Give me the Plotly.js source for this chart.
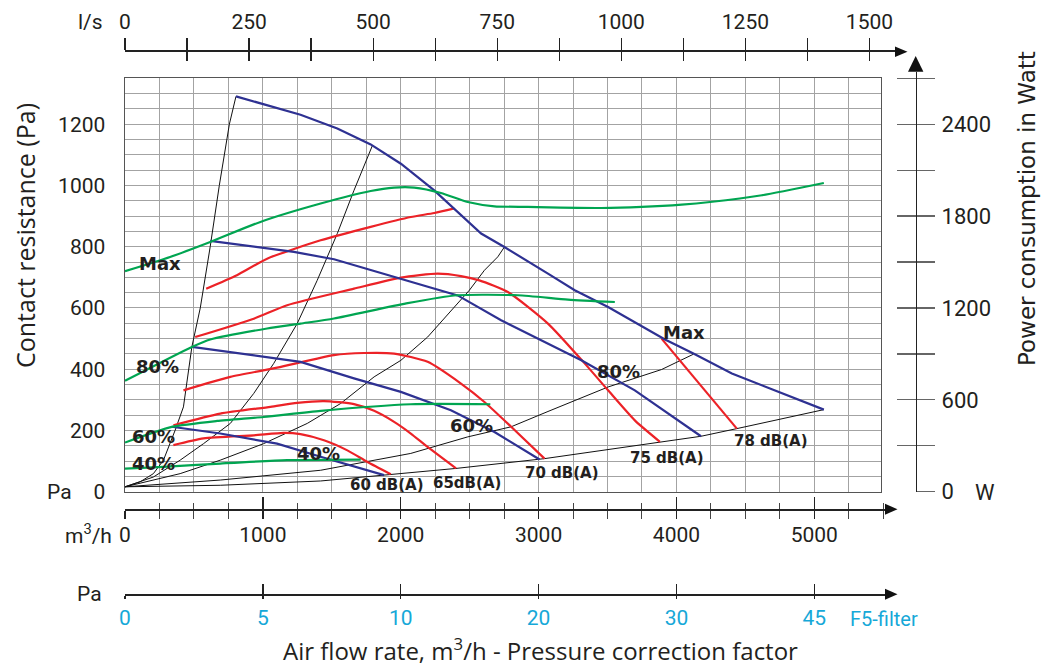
<!DOCTYPE html>
<html><head><meta charset="utf-8">
<script src="https://cdn.plot.ly/plotly-3.0.1.min.js"></script>
<style>html,body{margin:0;padding:0;background:#fff}#chart{width:1041px;height:666px}</style>
</head><body><div id="chart"></div>
<script>
// ---------- DATA (air flow Q in m3/h, pressure in Pa, power in W) ----------
// Fan curves (blue)
const fanMaxQ = [805,1273,1540,1782,2001,2243,2583,2752,3068,3262,3504,3917,4123,4402,5069];
const fanMaxP = [1291,1231,1186,1134,1071,984,843,799,712,658,603,497,451,386,268];
const fan80Q = [618,1225,1516,2040,2413,2728,3310,3698,4038,4178];
const fan80P = [819,783,759,690,641,560,429,331,223,181];
const fan60Q = [485,1103,1273,1661,2001,2364,2680,3007];
const fan60P = [473,435,424,370,326,266,195,105];
const fan40Q = [339,691,1103,1419,1879];
const fan40P = [212,190,157,114,54];
// Power consumption (green, W)
const powMaxQ = [0,327,618,982,1419,1782,1952,2098,2292,2486,2680,2922,3456,3747,4038,4244,4620,5069];
const powMaxW = [1440,1533,1631,1762,1882,1964,1986,1986,1951,1892,1864,1860,1853,1860,1875,1892,1936,2016];
const pow80Q = [0,485,618,1031,1273,1516,2040,2413,2850,3213,3553];
const pow80W = [724,945,994,1066,1098,1131,1230,1283,1283,1255,1239];
const pow60Q = [0,339,667,1006,1419,2073,2650];
const pow60W = [321,423,462,488,528,571,571];
const pow40Q = [0,279,691,1176,1710];
const pow40W = [151,162,184,206,210];
// Sound level curves (red, Pa)
const db60Q = [351,570,934,1152,1273,1443,1613,1759,1928];
const db60P = [152,174,184,192,188,168,135,97,57];
const db65Q = [351,691,1055,1249,1443,1661,1807,1952,2073,2195,2401];
const db65P = [217,255,277,290,296,286,264,228,190,146,76];
const db70Q = [424,764,1104,1515,1734,1952,2195,2437,2607,2801,3043];
const db70P = [331,375,405,446,453,451,424,353,293,212,108];
const db75Q = [509,934,1176,1661,2001,2268,2437,2570,2777,3068,3334,3504,3698,3880];
const db75P = [505,565,609,663,699,712,704,690,652,549,419,331,233,163];
const db78Q = [589,812,1031,1419,1782,2073,2243,2389,null,3892,4438];
const db78P = [663,707,761,821,865,897,910,925,null,500,206];
// System curves (black, Pa)
const sys1Q = [0,109,206,279,364,424,485,546,618,684,757,805];
const sys1P = [16,32,59,103,201,277,473,600,800,1000,1200,1291];
const sys2Q = [0,206,400,570,764,934,1079,1249,1394,1540,1661,1795];
const sys2P = [16,48,103,157,223,321,419,549,690,843,984,1131];
const sys3Q = [0,400,691,1006,1322,1564,1807,2001,2195,2498,2607,2704,2752];
const sys3P = [16,59,103,157,223,288,375,429,505,658,723,767,799];
const sys4Q = [0,691,1419,2073,2486,2801,3068,3504,3892,4123];
const sys4P = [16,38,70,125,179,212,262,342,399,449];
const sys5Q = [0,691,1419,1928,2401,3043,3880,4178,4438,5069];
const sys5P = [16,21,35,55,76,108,163,181,206,268];
// Tick labels
const yTickVals = [0,200,400,600,800,1000,1200];
const yTickText = ['0','200','400','600','800','1000','1200'];
const wTickVals = [0,600,1200,1800,2400];
const wTickText = ['0','600','1200','1800','2400'];
const lsTickVals = [0,250,500,750,1000,1250,1500];
const lsTickText = ['0','250','500','750','1000','1250','1500'];
const qTickVals = [0,1000,2000,3000,4000,5000];
const qTickText = ['0','1000','2000','3000','4000','5000'];
const filterTickVals = [0,1000,2000,3000,4000,5000];
const filterTickText = ['0','5','10','20','30','45'];

// ---------- LAYOUT HELPERS ----------
const W = 1041, H = 666;
const px = x => x / W, py = y => 1 - y / H;
const L = 125, R = 880.5, TOP = 78.3, BOT = 491.7;
const QMAX = 5480;
const kq = (R - L) / QMAX;             // px per m3/h
const kw = (BOT - TOP) / 2700;         // px per W
const FONT = 'Roboto, sans-serif';
const INK = '#231f20';
const BLUE = '#2e3192', GREEN = '#00a551', RED = '#ec2227', BLACK = '#111111';
const CYAN = '#16a8d8';

const traces = [];
function addLine(xs, ys, color, width, yaxis, shape) {
  traces.push({x: xs, y: ys, type: 'scatter', mode: 'lines', xaxis: 'x', yaxis: yaxis || 'y',
    line: {color: color, width: width, shape: shape || 'linear', smoothing: 0.6},
    connectgaps: false, hoverinfo: 'skip', showlegend: false});
}
addLine(sys1Q, sys1P, BLACK, 1);
addLine(sys2Q, sys2P, BLACK, 1);
addLine(sys3Q, sys3P, BLACK, 1);
addLine(sys4Q, sys4P, BLACK, 1);
addLine(sys5Q, sys5P, BLACK, 1);
addLine(powMaxQ, powMaxW, GREEN, 2.2, 'y2', 'spline');
addLine(pow80Q, pow80W, GREEN, 2.2, 'y2', 'spline');
addLine(pow60Q, pow60W, GREEN, 2.2, 'y2', 'spline');
addLine(pow40Q, pow40W, GREEN, 2.2, 'y2', 'spline');
addLine(db60Q, db60P, RED, 2.2, 'y', 'spline');
addLine(db65Q, db65P, RED, 2.2, 'y', 'spline');
addLine(db70Q, db70P, RED, 2.2, 'y', 'spline');
addLine(db75Q, db75P, RED, 2.2, 'y', 'spline');
addLine(db78Q, db78P, RED, 2.2, 'y', 'spline');
addLine(fanMaxQ, fanMaxP, BLUE, 2.2);
addLine(fan80Q, fan80P, BLUE, 2.2);
addLine(fan60Q, fan60P, BLUE, 2.2);
addLine(fan40Q, fan40P, BLUE, 2.2);
// empty carriers so that the decorative axes get their own subplots and are drawn
[['x3','y5'],['x4','y5'],['x5','y6'],['x6','y6'],['x7','y7'],['x8','y7'],['x9','y3'],['x9','y4']].forEach(p => {
  traces.push({x: [], y: [], type: 'scatter', mode: 'lines', xaxis: p[0], yaxis: p[1], hoverinfo: 'skip', showlegend: false});
});

const tickFont = {family: FONT, size: 21, color: INK};
const layout = {
  width: W, height: H, margin: {l: 0, r: 0, t: 0, b: 0},
  paper_bgcolor: '#fff', plot_bgcolor: 'rgba(0,0,0,0)', showlegend: false,
  xaxis: {domain: [px(L), px(R)], range: [0, QMAX], anchor: 'y', showline: true, mirror: true,
    linecolor: '#555', linewidth: 1.5, showgrid: true, gridcolor: '#a3a3a3', gridwidth: 1,
    tick0: 0, dtick: 250, showticklabels: false, ticks: '', zeroline: false, fixedrange: true},
  yaxis: {domain: [py(BOT), py(TOP)], range: [0, 1350], anchor: 'x', showline: true, mirror: true,
    linecolor: '#555', linewidth: 1.5, showgrid: true, gridcolor: '#a3a3a3', gridwidth: 1,
    tickmode: 'array', tickvals: yTickVals, ticktext: yTickText, ticks: '', ticklabelstandoff: 14,
    tickfont: tickFont, zeroline: false, fixedrange: true,
    minor: {tickmode: 'linear', tick0: 0, dtick: 50, showgrid: true, gridcolor: '#a3a3a3', gridwidth: 1}},
  yaxis2: {overlaying: 'y', anchor: 'x', side: 'right', range: [0, 2700], visible: false, fixedrange: true},
  annotations: [], shapes: []
};

// Decorative axes with their own hidden anchor axes
function hiddenAxis(domain, anchor) {
  return {domain: domain, anchor: anchor, visible: false, range: [0, 1], fixedrange: true};
}
const common = {showgrid: false, zeroline: false, fixedrange: true, tickcolor: '#222', tickwidth: 1.3,
  linecolor: '#222', linewidth: 1.5, tickmode: 'array'};
// top l/s axis
const topY = 51.7, axEnd = 895;
const lsMax = (axEnd - L) / (kq * 3.6);
layout.yaxis5 = hiddenAxis([py(topY) - 0.01, py(topY)], 'x3');
layout.xaxis3 = Object.assign({}, common, {anchor: 'y5', side: 'top', domain: [px(L), px(axEnd)], range: [0, lsMax],
  showline: true, tickvals: lsTickVals, ticktext: lsTickText, ticks: 'outside', ticklen: 12,
  ticklabelstandoff: 1, tickfont: tickFont,
  minor: {tickmode: 'linear', tick0: 0, dtick: 125, ticks: 'outside', ticklen: 12, tickcolor: '#222', tickwidth: 1.3}});
layout.xaxis4 = Object.assign({}, common, {anchor: 'y5', side: 'top', domain: [px(L), px(axEnd)], range: [0, lsMax],
  showline: false, tickvals: lsTickVals, showticklabels: false, ticks: 'inside', ticklen: 9,
  minor: {tickmode: 'linear', tick0: 0, dtick: 125, ticks: 'inside', ticklen: 9, tickcolor: '#222', tickwidth: 1.3}});
// bottom m3/h axis
const qY = 509.3, bEnd = 885;
const qMaxB = (bEnd - L) / kq;
layout.yaxis6 = hiddenAxis([py(qY), py(qY) + 0.01], 'x5');
layout.xaxis5 = Object.assign({}, common, {anchor: 'y6', side: 'bottom', domain: [px(L), px(bEnd)], range: [0, qMaxB],
  showline: true, tickvals: qTickVals, ticktext: qTickText, ticks: 'outside', ticklen: 8,
  ticklabelstandoff: -2, tickfont: tickFont,
  minor: {tickmode: 'linear', tick0: 0, dtick: 250, ticks: 'outside', ticklen: 8, tickcolor: '#444', tickwidth: 1}});
layout.xaxis6 = Object.assign({}, common, {anchor: 'y6', side: 'bottom', domain: [px(L), px(bEnd)], range: [0, qMaxB],
  showline: false, tickvals: qTickVals, showticklabels: false, ticks: 'inside', ticklen: 12,
  minor: {tickmode: 'linear', tick0: 0, dtick: 250, ticks: 'inside', ticklen: 6, tickcolor: '#444', tickwidth: 1}});
// pressure correction (filter) axis
const fY = 594.3;
layout.yaxis7 = hiddenAxis([py(fY), py(fY) + 0.01], 'x7');
layout.xaxis7 = Object.assign({}, common, {anchor: 'y7', side: 'bottom', domain: [px(L), px(bEnd)], range: [0, qMaxB],
  showline: true, tickvals: filterTickVals, ticktext: filterTickText, ticks: 'outside', ticklen: 3,
  ticklabelstandoff: 1, tickfont: {family: FONT, size: 21, color: CYAN}});
layout.xaxis8 = Object.assign({}, common, {anchor: 'y7', side: 'bottom', domain: [px(L), px(bEnd)], range: [0, qMaxB],
  showline: false, tickvals: filterTickVals, showticklabels: false, ticks: 'inside', ticklen: 10});
// right W axis
const wX = 915.7, wTop = 71.7;
const wMax = (BOT - wTop) / kw;
layout.xaxis9 = hiddenAxis([px(wX) - 0.01, px(wX)], 'y3');
layout.yaxis3 = Object.assign({}, common, {anchor: 'x9', side: 'right', domain: [py(BOT), py(wTop)], range: [0, wMax],
  showline: true, tickvals: wTickVals, ticktext: wTickText, ticks: 'outside', ticklen: 18,
  ticklabelstandoff: 2, tickfont: {family: FONT, size: 22, color: INK}, tickcolor: '#666',
  minor: {tickmode: 'linear', tick0: 0, dtick: 300, ticks: 'outside', ticklen: 18, tickcolor: '#666', tickwidth: 1.3}});
layout.yaxis4 = Object.assign({}, common, {anchor: 'x9', side: 'right', domain: [py(BOT), py(wTop)], range: [0, wMax],
  showline: false, tickvals: wTickVals, showticklabels: false, ticks: 'inside', ticklen: 19, tickcolor: '#666',
  minor: {tickmode: 'linear', tick0: 0, dtick: 300, ticks: 'inside', ticklen: 19, tickcolor: '#666', tickwidth: 1.3}});

// arrowheads
function tri(pts) {
  return {type: 'path', xref: 'paper', yref: 'paper', fillcolor: '#111', line: {width: 0},
    path: 'M' + pts.map(p => px(p[0]).toFixed(5) + ',' + py(p[1]).toFixed(5)).join(' L') + ' Z'};
}
layout.shapes.push(tri([[895, 46.5], [907.5, topY], [895, 57]]));
layout.shapes.push(tri([[908, wTop], [915.7, 56], [923.4, wTop]]));
layout.shapes.push(tri([[885, qY - 5.5], [897.5, qY], [885, qY + 5.5]]));
layout.shapes.push(tri([[885, fY - 5.5], [897.5, fY], [885, fY + 5.5]]));

// text
function txt(t, x, y, font, extra) {
  layout.annotations.push(Object.assign({text: t, x: px(x), y: py(y), xref: 'paper', yref: 'paper',
    showarrow: false, xanchor: 'center', yanchor: 'middle', font: font}, extra || {}));
}
const reg = s => ({family: FONT, size: s, color: INK});
const title = s => ({family: 'Open Sans, sans-serif', size: s, color: INK});
const bold = s => ({family: 'DejaVu Sans, sans-serif', size: s, color: INK, weight: 'bold'});
txt('l/s', 90, 22, reg(21));
txt('m<sup>3</sup>/h', 88, 534, reg(21));
txt('Pa', 89.5, 594, reg(21));
txt('Pa', 59, 492, reg(21));
txt('W', 985, 492, reg(22));
txt('F5-filter', 884, 619, {family: FONT, size: 20, color: CYAN});
txt('Contact resistance (Pa)', 25, 236, title(25), {textangle: -90});
txt('Power consumption in Watt', 1027, 209, {family: 'DejaVu Sans, sans-serif', size: 23, color: INK}, {textangle: -90});
txt('Air flow rate, m<sup>3</sup>/h - Pressure correction factor', 540, 649, title(24));
txt('Max', 160, 263, bold(18));
txt('80%', 157, 366, bold(18));
txt('60%', 153, 436, bold(18));
txt('40%', 153, 463, bold(18));
txt('40%', 318, 453, bold(18));
txt('60%', 471, 425, bold(18));
txt('80%', 618, 371, bold(18));
txt('Max', 684, 332, bold(18));
txt('60 dB(A)', 387, 485, bold(15));
txt('65dB(A)', 467, 483, bold(15));
txt('70 dB(A)', 562, 473, bold(15));
txt('75 dB(A)', 667, 458, bold(15));
txt('78 dB(A)', 771, 441, bold(15));

Plotly.newPlot('chart', traces, layout, {staticPlot: true, displayModeBar: false});
</script></body></html>
